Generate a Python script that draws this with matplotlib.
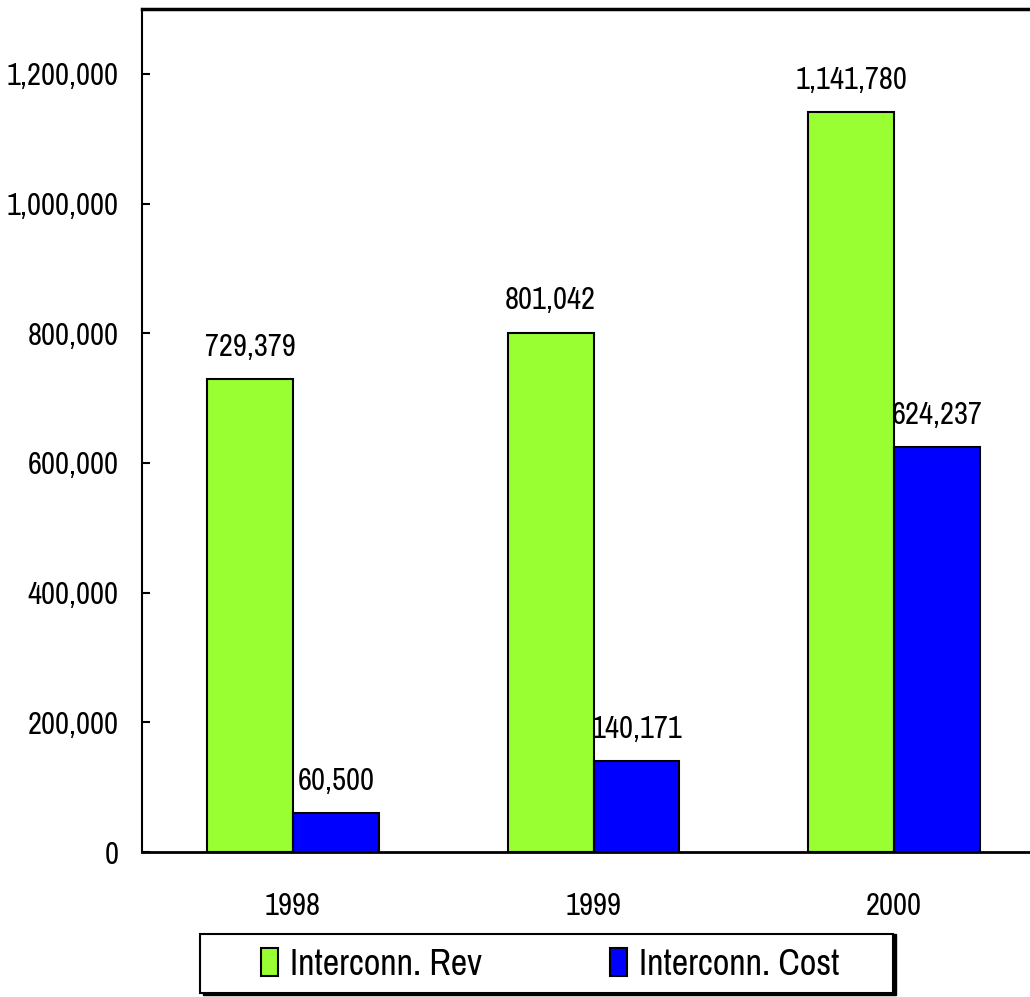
import matplotlib.pyplot as plt
from matplotlib import font_manager as fm
from matplotlib.patches import Rectangle
import numpy as np

# pick a narrow sans (Arial Narrow look-alike) that is installed
installed = set(f.name for f in fm.fontManager.ttflist)
narrow = [n for n in ['Liberation Sans Narrow', 'Arial Narrow', 'Archivo Narrow', 'Roboto Condensed']
          if n in installed]
plt.rcParams['font.family'] = narrow[:1] + ['Liberation Sans', 'DejaVu Sans']

# data
years = ['1998', '1999', '2000']
rev = [729379, 801042, 1141780]
cost = [60500, 140171, 624237]
series_names = ['Interconn. Rev', 'Interconn. Cost']
colors = ['#99FF33', '#0000FF']
yticks = [0, 200000, 400000, 600000, 800000, 1000000, 1200000]

fs = 22        # numbers and years
fs_leg = 26    # legend text

fig = plt.figure(figsize=(10.30, 9.97), dpi=100)
ax = fig.add_axes([142/1030, 145/997, 1 - 142/1030, (852 - 9)/997])

x = np.arange(len(years))
w = 0.286
b1 = ax.bar(x - w/2, rev, w, color=colors[0], edgecolor='black', linewidth=1.5, label=series_names[0])
b2 = ax.bar(x + w/2, cost, w, color=colors[1], edgecolor='black', linewidth=1.5, label=series_names[1])

for bars, vals in [(b1, rev), (b2, cost)]:
    for bar, v in zip(bars, vals):
        ax.annotate(f"{v:,}", (bar.get_x() + bar.get_width()/2, v),
                    xytext=(0, 13), textcoords='offset points',
                    ha='center', va='bottom', fontsize=fs)

ax.set_xlim(-0.502, 2.452)
ax.set_ylim(0, 1300000)
ax.set_yticks(yticks)
ax.set_yticklabels([f"{t:,}" for t in yticks])
ax.set_xticks(x)
ax.set_xticklabels(years)
ax.tick_params(axis='y', direction='in', length=6, width=1.5, pad=17, labelsize=fs)
ax.tick_params(axis='x', length=0, pad=29, labelsize=fs)

ax.spines['right'].set_visible(False)
ax.spines['top'].set_linewidth(2.5)
ax.spines['left'].set_linewidth(1.5)
ax.spines['bottom'].set_linewidth(2)

# legend box with shadow
fig.patches.append(Rectangle((203/1030, 2/997), 693/1030, 61/997, transform=fig.transFigure,
                             facecolor='black', edgecolor='black', zorder=1))
fig.patches.append(Rectangle((200/1030, 4/997), 693/1030, 59/997, transform=fig.transFigure,
                             facecolor='white', edgecolor='black', linewidth=1.5, zorder=2))
leg = fig.legend(handles=[b1, b2], labels=series_names, loc='center',
                 bbox_to_anchor=(550/1030, 33/997), ncol=2, frameon=False,
                 fontsize=fs_leg, handlelength=0.47, handleheight=0.8,
                 handletextpad=0.33, columnspacing=3.55)
for h in leg.legend_handles:
    h.set_linewidth(1.5)

fig.savefig('out.png', dpi=100)
